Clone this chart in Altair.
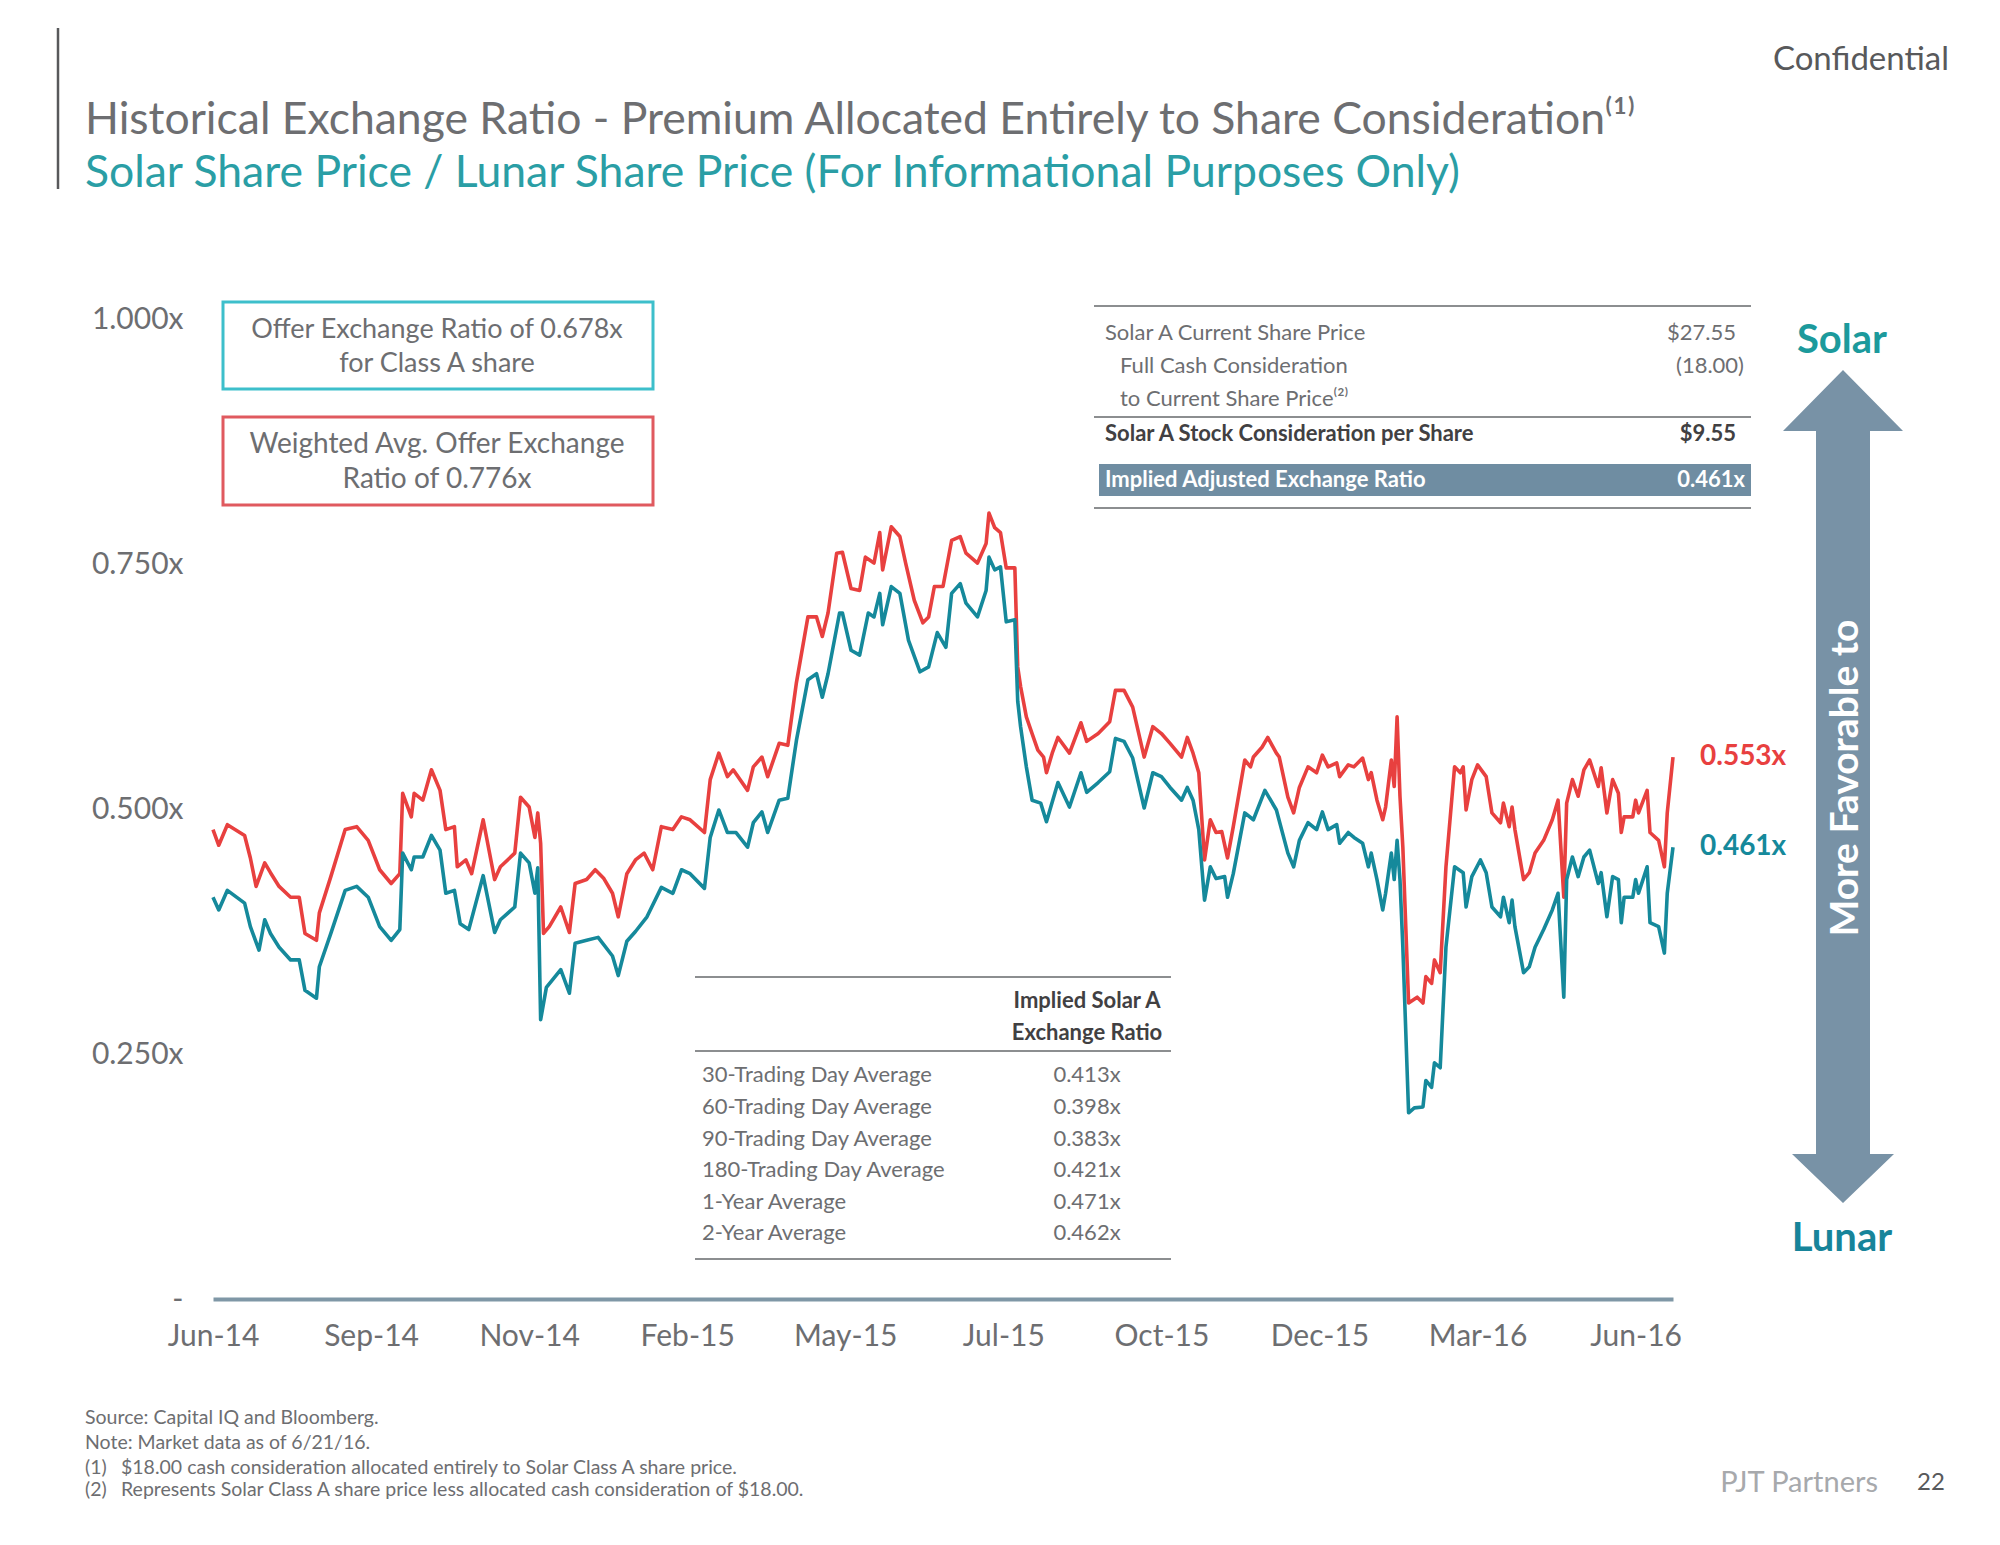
import json
import altair as alt
import pandas as pd

# ---------------- data ----------------
red_day = [0, 2, 5, 11, 13, 15, 18, 20, 23, 27, 30, 32, 36, 37, 41, 46, 50, 54, 58, 62, 65, 66, 69, 70, 73, 76, 79, 81,
           84, 85, 88, 90, 94, 98, 100, 105, 107, 110, 112, 113, 114, 115, 117, 121, 124, 126, 130, 133, 136, 139, 141,
           144, 147, 150, 153, 156, 160, 163, 166, 171, 173, 176, 179, 181, 186, 188, 191, 193, 197, 200, 203, 207, 210,
           212, 214, 217, 219, 222, 225, 227, 230, 232, 233, 236, 239, 241, 244, 247, 249, 251, 254, 257, 260, 262, 266,
           269, 270, 272, 274, 276, 279, 280, 281, 283, 285, 287, 289, 290, 292, 294, 298, 302, 304, 308, 312, 314, 317,
           320, 324, 327, 330, 333, 337, 339, 341, 343, 345, 347, 349, 351, 353, 355, 359, 361, 362, 365, 367, 370, 371,
           374, 376, 378, 381, 384, 386, 388, 391, 392, 395, 397, 400, 402, 403, 405, 407, 408, 410, 411, 412, 413, 414,
           416, 419, 421, 422, 424, 425, 427, 429, 432, 434, 435, 436, 438, 440, 443, 445, 448, 449, 451, 452, 453, 456,
           458, 460, 463, 466, 468, 470, 471, 473, 475, 477, 479, 482, 483, 485, 487, 489, 490, 491, 494, 495, 496, 499,
           500, 503, 505, 506, 508]
red_ratio = [0.479, 0.463, 0.484, 0.473, 0.450, 0.421, 0.445, 0.435, 0.421, 0.410, 0.410, 0.373, 0.366, 0.394, 0.431,
             0.479, 0.482, 0.468, 0.438, 0.424, 0.434, 0.516, 0.492, 0.516, 0.509, 0.540, 0.519, 0.479, 0.482, 0.441,
             0.448, 0.434, 0.489, 0.428, 0.441, 0.455, 0.512, 0.502, 0.471, 0.496, 0.465, 0.373, 0.380, 0.400, 0.374,
             0.424, 0.428, 0.438, 0.429, 0.414, 0.390, 0.434, 0.448, 0.455, 0.438, 0.482, 0.479, 0.492, 0.489, 0.476,
             0.530, 0.557, 0.533, 0.540, 0.519, 0.543, 0.553, 0.533, 0.567, 0.565, 0.629, 0.696, 0.696, 0.676, 0.700,
             0.761, 0.762, 0.725, 0.723, 0.757, 0.751, 0.782, 0.744, 0.788, 0.778, 0.751, 0.713, 0.690, 0.696, 0.727,
             0.727, 0.774, 0.778, 0.761, 0.751, 0.771, 0.802, 0.787, 0.782, 0.746, 0.746, 0.645, 0.625, 0.594, 0.577,
             0.560, 0.553, 0.537, 0.557, 0.573, 0.557, 0.588, 0.569, 0.577, 0.589, 0.621, 0.621, 0.604, 0.553, 0.584,
             0.577, 0.567, 0.553, 0.573, 0.557, 0.537, 0.448, 0.489, 0.476, 0.477, 0.450, 0.482, 0.550, 0.543, 0.553,
             0.563, 0.573, 0.557, 0.553, 0.512, 0.496, 0.522, 0.543, 0.537, 0.555, 0.543, 0.547, 0.533, 0.545, 0.543,
             0.552, 0.530, 0.537, 0.509, 0.489, 0.502, 0.550, 0.523, 0.594, 0.513, 0.461, 0.302, 0.308, 0.302, 0.329,
             0.322, 0.346, 0.333, 0.441, 0.543, 0.537, 0.543, 0.499, 0.530, 0.545, 0.533, 0.496, 0.486, 0.506, 0.482,
             0.502, 0.479, 0.428, 0.435, 0.455, 0.468, 0.489, 0.509, 0.410, 0.506, 0.530, 0.513, 0.540, 0.550, 0.523,
             0.542, 0.496, 0.530, 0.516, 0.476, 0.492, 0.492, 0.509, 0.496, 0.519, 0.476, 0.468, 0.441, 0.496, 0.553]

teal_day = [0, 2, 5, 11, 13, 16, 18, 20, 23, 27, 30, 32, 36, 37, 41, 46, 50, 54, 58, 62, 65, 66, 69, 70, 73, 76, 79, 81,
            84, 86, 89, 94, 98, 100, 105, 107, 110, 112, 113, 114, 116, 121, 124, 126, 130, 134, 139, 141, 144, 147, 151,
            156, 160, 163, 166, 171, 173, 176, 179, 182, 186, 188, 191, 193, 197, 200, 203, 207, 210, 212, 214, 218, 219,
            222, 225, 228, 230, 232, 233, 236, 239, 242, 246, 249, 252, 255, 257, 260, 262, 266, 269, 270, 272, 274, 276,
            279, 280, 281, 283, 285, 288, 290, 294, 298, 302, 304, 308, 312, 314, 317, 320, 324, 327, 330, 333, 337, 339,
            341, 343, 345, 347, 349, 352, 353, 355, 359, 362, 366, 370, 374, 376, 378, 381, 384, 386, 388, 391, 392, 395,
            397, 400, 402, 403, 405, 407, 408, 410, 411, 412, 413, 414, 416, 418, 421, 422, 424, 425, 427, 429, 432, 435,
            436, 438, 441, 443, 445, 448, 449, 451, 452, 453, 456, 458, 460, 463, 466, 468, 470, 471, 473, 475, 477, 479,
            482, 483, 485, 487, 489, 490, 491, 494, 495, 496, 499, 500, 503, 505, 506, 508]
teal_ratio = [0.410, 0.397, 0.417, 0.404, 0.380, 0.356, 0.387, 0.373, 0.359, 0.346, 0.346, 0.315, 0.307, 0.339, 0.373,
              0.417, 0.421, 0.410, 0.380, 0.366, 0.377, 0.455, 0.438, 0.451, 0.451, 0.473, 0.458, 0.414, 0.417, 0.383,
              0.377, 0.432, 0.374, 0.387, 0.400, 0.455, 0.445, 0.414, 0.440, 0.285, 0.318, 0.336, 0.312, 0.363, 0.366,
              0.369, 0.350, 0.330, 0.365, 0.375, 0.390, 0.420, 0.414, 0.438, 0.434, 0.419, 0.471, 0.499, 0.476, 0.476,
              0.461, 0.486, 0.497, 0.476, 0.509, 0.511, 0.570, 0.632, 0.638, 0.614, 0.638, 0.700, 0.700, 0.662, 0.657,
              0.700, 0.696, 0.720, 0.688, 0.727, 0.720, 0.672, 0.640, 0.645, 0.680, 0.665, 0.720, 0.730, 0.710, 0.696,
              0.723, 0.757, 0.744, 0.747, 0.691, 0.693, 0.610, 0.584, 0.543, 0.509, 0.506, 0.487, 0.527, 0.502, 0.537,
              0.517, 0.527, 0.538, 0.572, 0.569, 0.552, 0.501, 0.537, 0.533, 0.522, 0.509, 0.522, 0.509, 0.479, 0.407,
              0.441, 0.429, 0.431, 0.410, 0.434, 0.496, 0.489, 0.519, 0.499, 0.455, 0.441, 0.468, 0.486, 0.479, 0.497,
              0.479, 0.484, 0.465, 0.476, 0.471, 0.465, 0.441, 0.455, 0.428, 0.397, 0.414, 0.455, 0.428, 0.468, 0.428,
              0.359, 0.190, 0.195, 0.196, 0.223, 0.216, 0.241, 0.236, 0.359, 0.441, 0.435, 0.400, 0.431, 0.448, 0.435,
              0.400, 0.390, 0.410, 0.384, 0.407, 0.380, 0.333, 0.339, 0.359, 0.377, 0.397, 0.414, 0.308, 0.428, 0.451,
              0.431, 0.451, 0.458, 0.424, 0.435, 0.390, 0.431, 0.428, 0.384, 0.410, 0.410, 0.428, 0.414, 0.441, 0.384,
              0.380, 0.353, 0.414, 0.461]

series_names = ["Weighted Avg. Offer Exchange Ratio", "Offer Exchange Ratio (Class A)"]
series_colors = ["#e8403f", "#15899b"]

x_tick_labels = ["Jun-14", "Sep-14", "Nov-14", "Feb-15", "May-15", "Jul-15", "Oct-15", "Dec-15", "Mar-16", "Jun-16"]
x_tick_step = 55
y_ticks = [0, 0.25, 0.5, 0.75, 1.0]

avg_periods = ["30-Trading Day Average", "60-Trading Day Average", "90-Trading Day Average",
               "180-Trading Day Average", "1-Year Average", "2-Year Average"]
avg_ratios = ["0.413x", "0.398x", "0.383x", "0.421x", "0.471x", "0.462x"]

share_labels = ["Solar A Current Share Price", "Full Cash Consideration", "to Current Share Price⁽²⁾",
                "Solar A Stock Consideration per Share", "Implied Adjusted Exchange Ratio"]
share_values = ["$27.55", "(18.00)", "", "$9.55", "0.461x"]

footnotes = ["Source: Capital IQ and Bloomberg.", "Note: Market data as of 6/21/16.",
             "$18.00 cash consideration allocated entirely to Solar Class A share price.",
             "Represents Solar Class A share price less allocated cash consideration of $18.00."]

# ---------------- layout ----------------
OX, OY = 213, 319          # page position of plot origin
W, H = 1460, 980
FONT = "Lato"
GRAY = "#6d6e71"
RULE = "#8c8e90"

df = pd.concat([
    pd.DataFrame({"day": red_day, "ratio": red_ratio, "series": series_names[0]}),
    pd.DataFrame({"day": teal_day, "ratio": teal_ratio, "series": series_names[1]}),
], ignore_index=True)

x_label_expr = json.dumps(x_tick_labels) + f"[round(datum.value / {x_tick_step})]"

lines = alt.Chart(df).mark_line(strokeWidth=3.6, strokeJoin="round").encode(
    x=alt.X("day:Q", scale=alt.Scale(domain=[0, 508], nice=False, zero=False),
            axis=alt.Axis(values=[i * x_tick_step for i in range(len(x_tick_labels))], labelExpr=x_label_expr,
                          title=None, grid=False, ticks=False, tickSize=0, domain=True, domainColor="#7f97a6",
                          domainWidth=4, labelFont=FONT, labelFontSize=30, labelColor=GRAY, labelPadding=22,
                          labelFlush=False)),
    y=alt.Y("ratio:Q", scale=alt.Scale(domain=[0, 1], nice=False),
            axis=alt.Axis(values=y_ticks, labelExpr="datum.value == 0 ? '-' : format(datum.value, '.3f') + 'x'",
                          title=None, grid=False, ticks=False, tickSize=0, domain=False, labelFont=FONT,
                          labelFontSize=30, labelColor=GRAY, labelPadding=30)),
    color=alt.Color("series:N", scale=alt.Scale(domain=series_names, range=series_colors), legend=None),
)

end_pts = df.groupby("series", sort=False).tail(1).copy()
end_pts["label"] = end_pts["ratio"].map(lambda v: f"{v:.3f}x")
end_labels = [
    alt.Chart(end_pts[end_pts.series == s]).mark_text(align="left", baseline="middle", dx=27, fontSize=28,
                                                      fontWeight="bold", font=FONT, color=c).encode(
        x="day:Q", y="ratio:Q", text="label:N")
    for s, c in zip(series_names, series_colors)
]


def texts(rows, size, color, weight="normal", align="left", angle=0, font=FONT):
    d = pd.DataFrame({"px": [r[0] - OX for r in rows], "py": [r[1] - OY for r in rows], "t": [r[2] for r in rows]})
    return alt.Chart(d).mark_text(align=align, baseline="middle", fontSize=size, color=color, fontWeight=weight,
                                  font=font, angle=angle).encode(
        x=alt.X("px:Q", scale=None), y=alt.Y("py:Q", scale=None), text="t:N")


def rects(rows, **kw):
    d = pd.DataFrame({"x1": [r[0] - OX for r in rows], "y1": [r[1] - OY for r in rows],
                      "x2": [r[2] - OX for r in rows], "y2": [r[3] - OY for r in rows]})
    return alt.Chart(d).mark_rect(**kw).encode(
        x=alt.X("x1:Q", scale=None), x2="x2:Q", y=alt.Y("y1:Q", scale=None), y2="y2:Q")


def hrules(rows, **kw):
    d = pd.DataFrame({"x1": [r[0] - OX for r in rows], "x2": [r[1] - OX for r in rows],
                      "y": [r[2] - OY for r in rows]})
    return alt.Chart(d).mark_rule(**kw).encode(x=alt.X("x1:Q", scale=None), x2="x2:Q", y=alt.Y("y:Q", scale=None))


def vrule(x, y1, y2, **kw):
    d = pd.DataFrame({"x": [x - OX], "y1": [y1 - OY], "y2": [y2 - OY]})
    return alt.Chart(d).mark_rule(**kw).encode(x=alt.X("x:Q", scale=None), y=alt.Y("y1:Q", scale=None), y2="y2:Q")


layers = [lines] + end_labels

# header
layers += [
    vrule(58, 28, 189, color="#58595b", strokeWidth=2.5),
    texts([(85, 121, "Historical Exchange Ratio - Premium Allocated Entirely to Share Consideration⁽¹⁾")], 44.5, GRAY),
    texts([(85, 174, "Solar Share Price / Lunar Share Price (For Informational Purposes Only)")], 44.5, "#2a9ea5"),
    texts([(1949, 60, "Confidential")], 33, "#58595b", align="right"),
]

# legend boxes
layers += [
    rects([(223, 302, 653, 389)], fillOpacity=0, stroke="#3dbfcb", strokeWidth=3),
    rects([(223, 417, 653, 505)], fillOpacity=0, stroke="#e05a5f", strokeWidth=3),
    texts([(437, 330, "Offer Exchange Ratio of 0.678x"), (437, 364, "for Class A share")], 27, GRAY, align="center"),
    texts([(437, 445, "Weighted Avg. Offer Exchange"), (437, 480, "Ratio of 0.776x")], 28, GRAY, align="center"),
]

# top-right table
layers += [
    rects([(1099, 464, 1751, 496)], color="#6f8da2"),
    hrules([(1094, 1751, 306), (1094, 1751, 417), (1094, 1751, 508)], color=RULE, strokeWidth=2),
    texts([(1105, 333, share_labels[0]), (1120, 366, share_labels[1]), (1120, 399, share_labels[2])], 22, GRAY),
    texts([(1736, 333, share_values[0]), (1744, 366, share_values[1])], 22, GRAY, align="right"),
    texts([(1105, 434, share_labels[3])], 22, "#414042", weight="bold"),
    texts([(1736, 434, share_values[3])], 22, "#414042", weight="bold", align="right"),
    texts([(1105, 480, share_labels[4])], 22, "white", weight="bold"),
    texts([(1745, 480, share_values[4])], 22, "white", weight="bold", align="right"),
]

# middle table
row_y = [1075, 1107, 1139, 1170, 1202, 1233]
layers += [
    hrules([(695, 1171, 977), (695, 1171, 1051), (695, 1171, 1259)], color=RULE, strokeWidth=2),
    texts([(1087, 1001, "Implied Solar A"), (1087, 1033, "Exchange Ratio")], 22, "#414042", weight="bold",
          align="center"),
    texts([(702, y, t) for y, t in zip(row_y, avg_periods)], 22, GRAY),
    texts([(1087, y, t) for y, t in zip(row_y, avg_ratios)], 22, GRAY, align="center"),
]

# arrow
arrow_path = ("M 0 -416 L 60 -355 L 27 -355 L 27 368 L 51 368 L 0 417 L -51 368 L -27 368 "
              "L -27 -355 L -60 -355 Z")
arrow_df = pd.DataFrame({"px": [1843 - OX], "py": [786 - OY]})
layers += [
    alt.Chart(arrow_df).mark_point(shape=arrow_path, size=4, filled=True, opacity=1, color="#7892a6",
                                   strokeWidth=0).encode(
        x=alt.X("px:Q", scale=None), y=alt.Y("py:Q", scale=None)),
    texts([(1846, 778, "More Favorable to")], 39, "white", weight="bold", angle=270, align="center"),
    texts([(1842, 341, "Solar")], 40, "#1c9a9c", weight="bold", align="center"),
    texts([(1842, 1239, "Lunar")], 40, "#17849a", weight="bold", align="center"),
]

# footnotes and footer
layers += [
    texts([(85, 1418, footnotes[0]), (85, 1443, footnotes[1]), (85, 1468, "(1)"), (85, 1490, "(2)"),
           (121, 1468, footnotes[2]), (121, 1490, footnotes[3])], 19.5, GRAY),
    texts([(1878, 1483, "PJT Partners")], 29, "#a7a9ac", align="right"),
    texts([(1917, 1483, "22")], 24, "#58595b"),
]

chart = alt.layer(*layers).properties(
    width=W, height=H,
    autosize=alt.AutoSizeParams(type="none"),
    padding={"left": OX - 8, "top": OY - 8, "right": 1975 - (OX - 8) - W, "bottom": 220},
    background="white",
).configure_view(stroke=None)

chart.save("out.html", embed_options={"renderer": "svg", "actions": False})
